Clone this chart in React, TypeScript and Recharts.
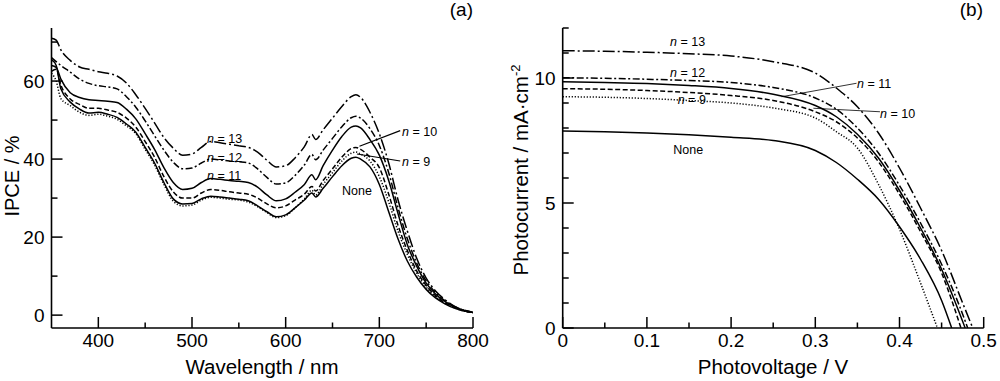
import { LineChart, Line, XAxis, YAxis, ReferenceLine } from "recharts";

// (a) IPCE spectra
const wavelengths = [
  350, 355, 360, 370, 380, 390, 400, 410, 420, 430, 440, 450, 460, 470, 480, 490, 500, 510, 520, 530, 540, 550, 560,
  570, 580, 590, 600, 610, 620, 628, 632, 640, 650, 660, 670, 675, 680, 690, 700, 710, 720, 730, 740, 750, 760, 770,
  780, 790, 800,
];
const ipceN13 = [
  71, 70.5, 68, 65.3, 63.6, 63, 62.4, 62, 61.3, 59.5, 56.5, 53, 49.3, 45.5, 42.8, 41, 41.3, 43, 44.5, 44.2, 43.8,
  43.4, 43, 41.8, 39.7, 38, 38.3, 40.3, 43.2, 46.3, 45, 47.5, 50.5, 53.5, 56, 56.5, 55.8, 52, 46.5, 39, 29.5, 21.5,
  14.5, 9.5, 6.2, 4, 2.3, 1.3, 0.7,
];
const ipceN12 = [
  66, 65, 64, 62.3, 60.5, 59.4, 58.8, 58.5, 58, 56, 53.3, 49.8, 46, 42.3, 39.2, 37.5, 37.7, 39, 40, 39.8, 39.5, 39.3,
  39, 37.5, 35.3, 33.6, 33.9, 35.8, 38.5, 41.2, 39.8, 42.3, 45.3, 48.3, 50.6, 51, 50.5, 47.8, 43.5, 36.5, 27.5, 19.5,
  13.3, 8.8, 5.8, 3.7, 2.2, 1.3, 0.7,
];
const ipceN11 = [
  64, 63.5, 60.5, 57, 55.8, 55.2, 55, 54.8, 54.5, 52.8, 50.3, 46.5, 42.5, 37.8, 34, 32.2, 32.5, 34, 35, 34.8, 34.5,
  34.3, 34, 32.8, 30.8, 29.3, 29.8, 31.5, 33.5, 36, 34.7, 38.3, 42.3, 45.8, 48.2, 48.5, 48, 45, 41, 34.5, 26, 18, 12.5,
  8.2, 5.4, 3.5, 2.1, 1.2, 0.7,
];
const ipceN10 = [
  62.5, 63, 59, 55.4, 54, 53, 53, 52.6, 52, 50.5, 48.2, 44.5, 40.5, 35.5, 31.6, 30, 30, 31.3, 32.2, 32, 31.6, 31.3, 31,
  30, 28.5, 27.5, 28, 29.5, 31, 33, 31.8, 34.5, 37.5, 40.5, 42.7, 43, 42.5, 40.5, 37.8, 31, 23, 16.5, 11.3, 7.6, 5,
  3.2, 2, 1.1, 0.7,
];
const ipceN9 = [
  62, 60, 55.5, 53.7, 52, 51.2, 51.5, 51, 50.2, 48.5, 46.5, 42.5, 38.5, 33.5, 29.2, 28, 28.2, 29.5, 30.2, 30, 29.7,
  29.5, 29, 27.8, 26.3, 25, 25.5, 27.5, 29.8, 32, 30.8, 33.5, 36.5, 39.5, 41.5, 41.8, 41.3, 39.5, 35.5, 29, 21.5, 15.5,
  10.7, 7.2, 4.8, 3.1, 1.9, 1.1, 0.7,
];
const ipceNone = [
  65.5, 64, 58, 54.6, 52.8, 51.8, 52, 51.5, 50.7, 49, 46.9, 43, 39, 34, 29.8, 28.5, 28.6, 29.8, 30.5, 30.3, 30, 29.7,
  29.3, 28, 26.5, 25.2, 25.7, 27.5, 29.5, 31.3, 30.3, 32.5, 35.5, 38.3, 40.2, 40.5, 40, 38, 33.5, 26.5, 19.5, 13.8,
  9.7, 6.6, 4.4, 2.9, 1.8, 1.1, 0.7,
];
const wlTicks = [400, 450, 500, 550, 600, 650, 700, 750, 800];
const wlMajor = [400, 500, 600, 700, 800];
const ipceTicks = [0, 10, 20, 30, 40, 50, 60, 70];
const ipceMajor = [0, 20, 40, 60];

// (b) photocurrent-voltage curves
const vGrid = [0, 0.05, 0.1, 0.15, 0.2, 0.25, 0.3, 0.325, 0.35, 0.375, 0.4, 0.425, 0.45];
const jvN13 = [11.09, 11.07, 11.03, 10.97, 10.88, 10.65, 10.2, 9.6, 8.85, 7.8, 6.4, 4.8, 3.1, 1.0, 0];
const vN13 = [...vGrid, 0.475, 0.487];
const jvN12 = [10.01, 9.99, 9.95, 9.9, 9.82, 9.62, 9.2, 8.75, 8.0, 7.0, 5.7, 4.2, 2.55, 0.55, 0];
const vN12 = [...vGrid, 0.475, 0.481];
const jvN11 = [9.85, 9.82, 9.78, 9.7, 9.58, 9.35, 8.9, 8.45, 7.75, 6.8, 5.5, 4.0, 2.35, 0];
const vN11 = [...vGrid, 0.478];
const jvN10 = [9.57, 9.55, 9.5, 9.42, 9.3, 9.1, 8.65, 8.25, 7.6, 6.65, 5.35, 3.85, 2.2, 0];
const vN10 = [...vGrid, 0.473];
const jvN9 = [9.25, 9.23, 9.18, 9.1, 9.0, 8.8, 8.4, 7.85, 7.2, 5.75, 3.95, 1.8, 0];
const vN9 = [...vGrid.slice(0, 12), 0.445];
const jvNone = [7.88, 7.85, 7.8, 7.73, 7.63, 7.5, 7.1, 6.62, 5.95, 5.15, 4.05, 2.75, 1.1, 0];
const vNone = [...vGrid, 0.462];
const vTicks = [0, 0.05, 0.1, 0.15, 0.2, 0.25, 0.3, 0.35, 0.4, 0.45, 0.5];
const vMajor = [0, 0.1, 0.2, 0.3, 0.4, 0.5];
const jTicks = [0, 1, 2, 3, 4, 5, 6, 7, 8, 9, 10, 11, 12];
const jMajor = [0, 5, 10];

const FONT = '"Liberation Sans", Arial, sans-serif';
const INK = "#000";

const ipceData = wavelengths.map((wl, i) => ({
  wl,
  n13: ipceN13[i],
  n12: ipceN12[i],
  n11: ipceN11[i],
  n10: ipceN10[i],
  n9: ipceN9[i],
  none: ipceNone[i],
}));

const toPoints = (vs: number[], js: number[]) => vs.map((v, i) => ({ v, j: js[i] }));

const jvSeries = [
  { key: "n13", pts: toPoints(vN13, jvN13), dash: "12 3 2 3" },
  { key: "n12", pts: toPoints(vN12, jvN12), dash: "7 2.5 2 2.5" },
  { key: "n11", pts: toPoints(vN11, jvN11), dash: undefined },
  { key: "n10", pts: toPoints(vN10, jvN10), dash: "5 2.5" },
  { key: "n9", pts: toPoints(vN9, jvN9), dash: "1.2 1.8" },
  { key: "none", pts: toPoints(vNone, jvNone), dash: undefined },
];

const ipceStyles = [
  { key: "n13", dash: "12 3 2 3" },
  { key: "n12", dash: "7 2.5 2 2.5" },
  { key: "n11", dash: undefined },
  { key: "n10", dash: "5 2.5" },
  { key: "n9", dash: "1.2 1.8" },
  { key: "none", dash: undefined },
];

const bottomTick = (major: number[], fmt: (v: number) => string) => (props: any) => {
  const { x, y, payload } = props;
  const isMajor = major.includes(payload.value);
  return (
    <g>
      <line x1={x} x2={x} y1={y} y2={y - (isMajor ? 11 : 5.5)} stroke={INK} strokeWidth={1.5} />
      {isMajor && (
        <text x={x} y={y + 19} textAnchor="middle" fontSize={19} fontFamily={FONT} fill={INK}>
          {fmt(payload.value)}
        </text>
      )}
    </g>
  );
};

const leftTick = (major: number[]) => (props: any) => {
  const { x, y, payload } = props;
  const isMajor = major.includes(payload.value);
  return (
    <g>
      <line x1={x} x2={x + (isMajor ? 11 : 6)} y1={y} y2={y} stroke={INK} strokeWidth={1.5} />
      {isMajor && (
        <text x={x - 7} y={y} dy="0.35em" textAnchor="end" fontSize={19} fontFamily={FONT} fill={INK}>
          {payload.value}
        </text>
      )}
    </g>
  );
};

function IpcePanel() {
  return (
    <LineChart width={490} height={381} data={ipceData} margin={{ top: 28, right: 17, bottom: 0, left: 0 }}>
      <XAxis
        dataKey="wl"
        type="number"
        domain={[350, 800]}
        allowDataOverflow
        ticks={wlTicks}
        interval={0}
        height={53}
        tickSize={0}
        tickMargin={0}
        tickLine={false}
        tick={bottomTick(wlMajor, (v) => String(v))}
        axisLine={{ stroke: INK, strokeWidth: 1.6 }}
      />
      <XAxis xAxisId="top" orientation="top" type="number" domain={[350, 800]} height={0} tick={false} tickLine={false} axisLine={{ stroke: INK, strokeWidth: 1.6 }} />
      <YAxis
        type="number"
        domain={[-3.3, 73.6]}
        allowDataOverflow
        ticks={ipceTicks}
        interval={0}
        width={51.5}
        tickSize={0}
        tickMargin={0}
        tickLine={false}
        tick={leftTick(ipceMajor)}
        axisLine={{ stroke: INK, strokeWidth: 1.6 }}
      />
      <YAxis yAxisId="right" orientation="right" type="number" domain={[-3.3, 73.6]} width={0} tick={false} tickLine={false} axisLine={{ stroke: INK, strokeWidth: 1.6 }} />
      {ipceStyles.map((s) => (
        <Line
          key={s.key}
          dataKey={s.key}
          type="monotone"
          stroke={INK}
          strokeWidth={1.5}
          strokeDasharray={s.dash}
          dot={false}
          isAnimationActive={false}
        />
      ))}
      <ReferenceLine segment={[{ x: 678.8, y: 43.3 }, { x: 722.3, y: 47.3 }]} stroke={INK} strokeWidth={1.2} />
      <ReferenceLine segment={[{ x: 676.1, y: 41.3 }, { x: 722.3, y: 39.5 }]} stroke={INK} strokeWidth={1.2} />
    </LineChart>
  );
}

function JvPanel() {
  return (
    <LineChart width={500} height={381} margin={{ top: 28, right: 16.3, bottom: 0, left: 0 }}>
      <XAxis
        dataKey="v"
        type="number"
        domain={[0, 0.5]}
        allowDataOverflow
        ticks={vTicks}
        interval={0}
        height={53}
        tickSize={0}
        tickMargin={0}
        tickLine={false}
        tick={bottomTick(vMajor, (v) => String(v))}
        axisLine={{ stroke: INK, strokeWidth: 1.6 }}
      />
      <XAxis xAxisId="top" orientation="top" type="number" domain={[0, 0.5]} height={0} tick={false} tickLine={false} axisLine={{ stroke: INK, strokeWidth: 1.6 }} />
      <YAxis
        type="number"
        domain={[0, 12]}
        allowDataOverflow
        ticks={jTicks}
        interval={0}
        width={62.7}
        tickSize={0}
        tickMargin={0}
        tickLine={false}
        tick={leftTick(jMajor)}
        axisLine={{ stroke: INK, strokeWidth: 1.6 }}
      />
      <YAxis yAxisId="right" orientation="right" type="number" domain={[0, 12]} width={0} tick={false} tickLine={false} axisLine={{ stroke: INK, strokeWidth: 1.6 }} />
      {jvSeries.map((s) => (
        <Line
          key={s.key}
          data={s.pts}
          dataKey="j"
          type="monotone"
          stroke={INK}
          strokeWidth={1.5}
          strokeDasharray={s.dash}
          dot={false}
          isAnimationActive={false}
        />
      ))}
      <ReferenceLine segment={[{ x: 0.26, y: 9.25 }, { x: 0.349, y: 9.79 }]} stroke={INK} strokeWidth={0.8} />
      <ReferenceLine segment={[{ x: 0.2977, y: 8.79 }, { x: 0.3768, y: 8.65 }]} stroke={INK} strokeWidth={0.8} />
    </LineChart>
  );
}

const Note = ({ x, y, n, text }: { x: number; y: number; n?: string; text?: string }) => (
  <text x={x} y={y} dy="0.35em" fontSize={12.5} fontFamily={FONT} fill={INK}>
    {n ? (
      <>
        <tspan fontStyle="italic">n</tspan>
        {` = ${n}`}
      </>
    ) : (
      text
    )}
  </text>
);

export default function App() {
  return (
    <div style={{ position: "absolute", left: 0, top: 0, width: 1000, height: 381, background: "#fff", fontFamily: FONT }}>
      <div style={{ position: "absolute", left: 0, top: 0 }}>
        <IpcePanel />
      </div>
      <div style={{ position: "absolute", left: 500, top: 0 }}>
        <JvPanel />
      </div>
      <svg width={1000} height={381} style={{ position: "absolute", left: 0, top: 0, pointerEvents: "none" }}>
        <text x={473} y={16} textAnchor="end" fontSize={19} fontFamily={FONT}>(a)</text>
        <text x={983} y={16} textAnchor="end" fontSize={19} fontFamily={FONT}>(b)</text>
        <text x={262} y={374} textAnchor="middle" fontSize={20.5} fontFamily={FONT}>Wavelength / nm</text>
        <text x={773} y={374} textAnchor="middle" fontSize={20.5} fontFamily={FONT}>Photovoltage / V</text>
        <text transform="translate(19,176) rotate(-90)" textAnchor="middle" fontSize={20} fontFamily={FONT}>IPCE / %</text>
        <text transform="translate(528,170) rotate(-90)" textAnchor="middle" fontSize={20.5} fontFamily={FONT}>
          Photocurrent / mA·cm
          <tspan dy={-8} fontSize={13}>-2</tspan>
        </text>
        <Note x={207} y={139} n="13" />
        <Note x={207} y={157.5} n="12" />
        <Note x={207} y={176} n="11" />
        <Note x={342} y={190.5} text="None" />
        <Note x={402} y={131.3} n="10" />
        <Note x={402} y={161.3} n="9" />
        <Note x={670} y={41.8} n="13" />
        <Note x={670} y={72.5} n="12" />
        <Note x={677.7} y={99.2} n="9" />
        <Note x={673.3} y={150} text="None" />
        <Note x={857} y={83.7} n="11" />
        <Note x={880} y={113.3} n="10" />
      </svg>
    </div>
  );
}
